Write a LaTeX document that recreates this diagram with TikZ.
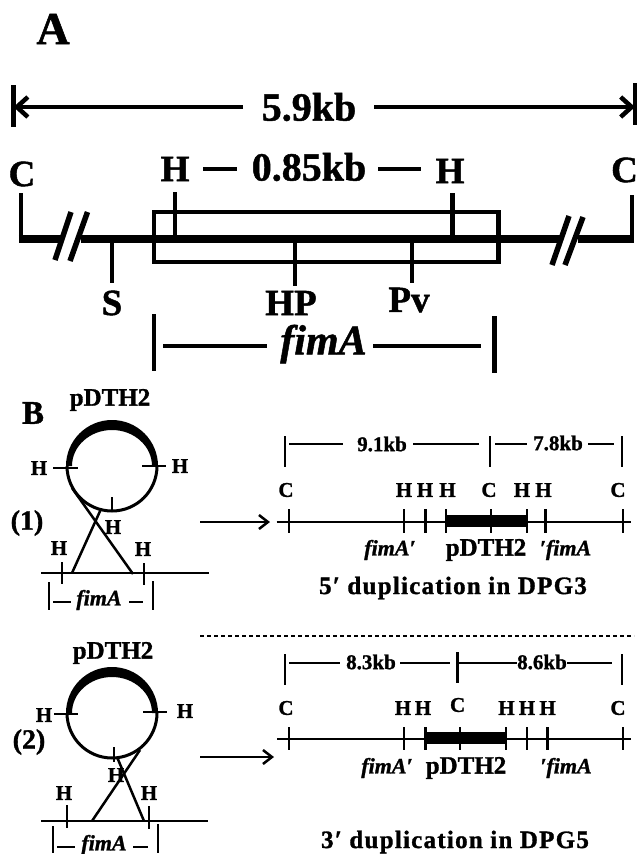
\documentclass[tikz,border=0pt]{standalone}
\usepackage{fontspec}
\setmainfont{Liberation Serif}[BoldFeatures={FakeBold=1.2},BoldItalicFeatures={FakeBold=1.2}]
\usetikzlibrary{arrows.meta}
\newfontfamily\spacedfont{Liberation Serif}[LetterSpace=5,BoldFeatures={FakeBold=1.2,LetterSpace=5}]
\tikzset{
  x=1pt,y=-1pt,
  every node/.style={inner sep=0pt,outer sep=0pt,anchor=center},
  panel/.style={font=\fontsize{46}{46}\selectfont\bfseries},
  big/.style={font=\fontsize{37}{37}\selectfont\bfseries},
  kbig/.style={font=\fontsize{40}{40}\selectfont\bfseries},
  bigit/.style={font=\fontsize{42}{42}\selectfont\bfseries\itshape},
  mid/.style={font=\fontsize{21}{21}\selectfont\bfseries},
  plas/.style={font=\fontsize{25}{25}\selectfont\bfseries},
  smit/.style={font=\fontsize{22}{22}\selectfont\bfseries\itshape},
  capt/.style={font=\spacedfont\fontsize{25}{25}\selectfont\bfseries},
  num/.style={font=\fontsize{28}{28}\selectfont\bfseries},
  heavy/.style={line width=8pt},
  boxln/.style={line width=4.5pt},
  aln/.style={line width=4.5pt},
  thin2/.style={line width=2.5pt},
  thin3/.style={line width=3pt},
  barb/.style={-{Straight Barb[length=11pt,width=20pt,line width=4.5pt]}},
  sbarb/.style={-{Straight Barb[length=9pt,width=14pt,line width=2.5pt]}},
  plasmid/.style={fill=black,draw=none},
}
\begin{document}
\begin{tikzpicture}
\useasboundingbox (0,0) rectangle (638,854);
\fill[white] (0,0) rectangle (638,854);
%% ---------- A ----------
\node[panel] (pa) at (53,29) {A};
\coordinate (al) at (13.5,107); \coordinate (ar) at (635,107);
\node[kbig] (l59) at (309,107) {5.9kb};
\draw[aln] (13.5,85) -- (13.5,127);
\draw[aln] (635,83) -- (635,125);
\draw[aln,barb] (243,107) -- (al);
\draw[aln,barb] (374,107) -- (ar);
\node[big] (cl) at (22,174) {C};
\node[big] (cr) at (624.5,170) {C};
\node[big] (hl) at (175,169) {H};
\node[big] (hr) at (450,171) {H};
\node[kbig] (l085) at (309,167) {0.85kb};
\draw[aln] (203,169) -- (237,169);
\draw[aln] (378,169) -- (421,169);
\draw[boxln] (154,212) rectangle (498.5,262);
\draw[aln] (21,193) -- (21,243);
\draw[heavy] (18.75,239) -- (61,239);
\draw[heavy] (81,239) -- (560,239);
\draw[heavy] (578,239) -- (634,239);
\draw[aln] (632,195) -- (632,243);
\draw[line width=5.5pt] (71,212) -- (55,260);
\draw[line width=5.5pt] (87.5,212) -- (70,261);
\draw[line width=5.5pt] (569,216) -- (552,265);
\draw[line width=5.5pt] (583,217) -- (565,265);
\draw[boxln] (175,192) -- (175,239);
\draw[boxln] (452.5,193) -- (452.5,239);
\draw[boxln] (112,239) -- (112,283);
\draw[boxln] (295,239) -- (295,286);
\draw[boxln] (412,239) -- (412,283);
\node[big] (ls) at (112,303) {S};
\node[big] (lhp) at (291,303) {HP};
\node[big] (lpv) at (409,300) {Pv};
\draw[boxln] (154,314) -- (154,371);
\draw[boxln] (494.5,316) -- (494.5,373);
\draw[boxln] (163,346) -- (267,346);
\draw[boxln] (373,346) -- (481,346);
\node[bigit] (lf) at (323.5,344) {fimA};
%% ---------- B (1) ----------
\node[panel,font=\fontsize{33}{33}\selectfont\bfseries] (pb) at (33,413) {B};
\node[plas] (p1) at (110,400) {pDTH2};
\draw[thin3] (67,466) arc[start angle=180,end angle=360,radius=45pt];
\fill[plasmid] (66,466) arc[start angle=180,end angle=0,radius=46pt] -- (152,466) arc[start angle=0,end angle=180,x radius=40pt,y radius=36pt] -- cycle;
\draw[thin2] (53,468) -- (78,468);
\draw[thin2] (142,466) -- (166,466);
\node[mid] (h1a) at (39,468) {H};
\node[mid] (h1b) at (180,466) {H};
\node[num] (n1) at (27,523) {(1)};
\draw[thin2] (112,497) -- (112,511);
\node[mid] (h1c) at (113,527) {H};
\draw[thin2] (72,488) -- (133,574);
\draw[thin2] (101,509) -- (72,573);
\draw[thin2] (41,573) -- (209,573);
\draw[thin2] (62,562) -- (62,584);
\draw[thin2] (144,563) -- (144,585);
\node[mid] (h1d) at (59,548) {H};
\node[mid] (h1e) at (143,549) {H};
\draw[thin2] (49,582) -- (49,610);
\draw[thin2] (153,581) -- (153,610);
\draw[thin2] (53,602) -- (71,602);
\draw[thin2] (129,602) -- (143,602);
\node[smit] (f1) at (99,600) {fimA};
%% arrow 1
\coordinate (a1s) at (200,522); \coordinate (a1e) at (270,522);
\draw[thin2,sbarb] (a1s) -- (a1e);
%% map 1
\draw[thin2] (285,436) -- (285,467);
\draw[thin2] (490,436) -- (490,467);
\draw[thin2] (622,436) -- (622,467);
\draw[thin2] (289,444) -- (343,444);
\draw[thin2] (413,444) -- (479,444);
\draw[thin2] (495,444) -- (527,444);
\draw[thin2] (588,444) -- (614,444);
\node[mid] (k91) at (382,444) {9.1kb};
\node[mid] (k78) at (558,443) {7.8kb};
\node[mid] (m1c1) at (286,490) {C};
\node[mid] (m1h1) at (404,490) {H};
\node[mid] (m1h2) at (425,490) {H};
\node[mid] (m1h3) at (447.5,490) {H};
\node[mid] (m1c2) at (489,490) {C};
\node[mid] (m1h4) at (522,490) {H};
\node[mid] (m1h5) at (543.5,490) {H};
\node[mid] (m1c3) at (618,490) {C};
\draw[thin2] (276.5,522) -- (631,522);
\foreach \x in {289,404,425.5,446,491,527,545.5,623} \draw[thin2] (\x,509) -- (\x,533);
\fill[black] (446,515) rectangle (527,527);
\node[smit] (m1f1) at (390,550) {fimA′};
\node[plas] (m1p) at (486,550) {pDTH2};
\node[smit] (m1f2) at (565.5,550) {′fimA};
\node[capt] (c1) at (453,588) {5′ duplication in DPG3};
%% divider
\draw[line width=2pt,dash pattern=on 4pt off 3pt] (200,636) -- (634,636);
%% ---------- B (2) ----------
\node[plas] (p2) at (113,653) {pDTH2};
\draw[thin3] (67,713) arc[start angle=180,end angle=360,radius=45pt];
\fill[plasmid] (66,713) arc[start angle=180,end angle=0,radius=46pt] -- (152,713) arc[start angle=0,end angle=180,x radius=40pt,y radius=36pt] -- cycle;
\draw[thin2] (54,714) -- (78,714);
\draw[thin2] (143,712) -- (167,712);
\node[mid] (h2a) at (44,715) {H};
\node[mid] (h2b) at (185,711) {H};
\node[num] (n2) at (29,742) {(2)};
\draw[thin2] (114,747) -- (114,762);
\node[mid] (h2c) at (116,775) {H};
\draw[thin2] (117,757) -- (144,821);
\draw[thin2] (140,750) -- (92,821);
\draw[thin2] (41,821) -- (208,821);
\draw[thin2] (67,805) -- (67,828);
\draw[thin2] (149,806) -- (149,829);
\node[mid] (h2d) at (64,793) {H};
\node[mid] (h2e) at (149,793) {H};
\draw[thin2] (53,826) -- (53,853);
\draw[thin2] (158,824) -- (158,853);
\draw[thin2] (57,847) -- (75,847);
\draw[thin2] (133,847) -- (148,847);
\node[smit] (f2) at (104,845) {fimA};
%% arrow 2
\coordinate (a2s) at (200,757); \coordinate (a2e) at (274,757);
\draw[thin2,sbarb] (a2s) -- (a2e);
%% map 2
\draw[thin2] (285,654) -- (285,685);
\draw[thin2] (457.6,652) -- (457.6,683);
\draw[thin2] (622,654) -- (622,685);
\draw[thin2] (289,663) -- (340,663);
\draw[thin2] (400,663) -- (450,663);
\draw[thin2] (459,663) -- (517,663);
\draw[thin2] (567,663) -- (612,663);
\node[mid] (k83) at (371,662) {8.3kb};
\node[mid] (k86) at (542,662) {8.6kb};
\node[mid] (m2c1) at (286,708) {C};
\node[mid] (m2h1) at (403,708) {H};
\node[mid] (m2h2) at (423,708) {H};
\node[mid] (m2c2) at (457.6,705) {C};
\node[mid] (m2h3) at (506.5,708) {H};
\node[mid] (m2h4) at (527,708) {H};
\node[mid] (m2h5) at (547.6,708) {H};
\node[mid] (m2c3) at (618,708) {C};
\draw[thin2] (277,739) -- (631,739);
\foreach \x in {289,404,425.5,460,506,527,547.6,623} \draw[thin2] (\x,727) -- (\x,750);
\fill[black] (425.5,732) rectangle (506,744);
\node[smit] (m2f1) at (387,768) {fimA′};
\node[plas] (m2p) at (466,768) {pDTH2};
\node[smit] (m2f2) at (566,768) {′fimA};
\node[capt] (c2) at (455,842) {3′ duplication in DPG5};
\end{tikzpicture}
\end{document}
